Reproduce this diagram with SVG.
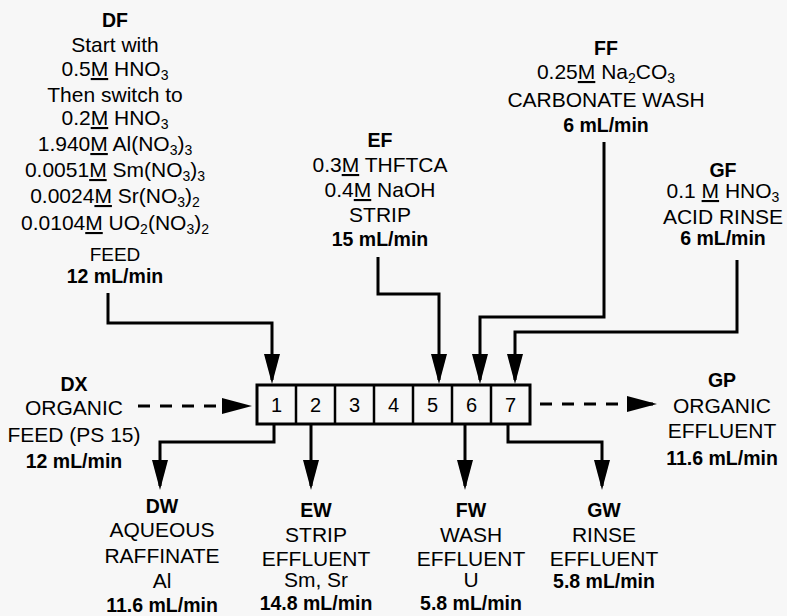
<svg xmlns="http://www.w3.org/2000/svg" width="787" height="616" viewBox="0 0 787 616">
<defs>
<style>
text{font-family:"Liberation Sans",Arial,sans-serif;font-size:21px;fill:#000;text-anchor:middle}
.b{font-weight:bold;font-size:19.5px}
.s{font-size:14px}
.u{text-decoration:underline}
.n{font-size:20px}
.ln{fill:none;stroke:#000;stroke-width:3}
.d{stroke-dasharray:12 10}
.dv{stroke:#000;stroke-width:2.5}
</style>
<marker id="ah" viewBox="0 0 30 16" refX="26" refY="8" markerWidth="30" markerHeight="16" markerUnits="userSpaceOnUse" orient="auto">
<path d="M0,0 L30,8 L0,16 Z" fill="#000"/>
</marker>
</defs>
<rect width="787" height="616" fill="#f7f7f7"/>

<g id="connectors">
<path class="ln" d="M108,293 V323 H272 V380" marker-end="url(#ah)"/>
<path class="ln" d="M378,257 V294 H439 V380" marker-end="url(#ah)"/>
<path class="ln" d="M604,142 V317 H480 V380" marker-end="url(#ah)"/>
<path class="ln" d="M737,260 V332 H515 V380" marker-end="url(#ah)"/>
<path class="ln" d="M274,425 V442 H160 V486" marker-end="url(#ah)"/>
<path class="ln" d="M311,425 V486" marker-end="url(#ah)"/>
<path class="ln" d="M465,425 V486" marker-end="url(#ah)"/>
<path class="ln" d="M508,425 V442 H602 V486" marker-end="url(#ah)"/>
<path class="ln d" d="M138,406 H248" marker-end="url(#ah)"/>
<path class="ln d" d="M540,404 H653" marker-end="url(#ah)"/>
</g>

<g id="contactor">
<rect x="257" y="385" width="273" height="39" fill="#f7f7f7" stroke="#000" stroke-width="3"/>
<line class="dv" x1="296" y1="385" x2="296" y2="424"/>
<line class="dv" x1="335" y1="385" x2="335" y2="424"/>
<line class="dv" x1="374" y1="385" x2="374" y2="424"/>
<line class="dv" x1="413" y1="385" x2="413" y2="424"/>
<line class="dv" x1="452" y1="385" x2="452" y2="424"/>
<line class="dv" x1="491" y1="385" x2="491" y2="424"/>
<text class="n" x="276.5" y="412">1</text>
<text class="n" x="315.5" y="412">2</text>
<text class="n" x="354.5" y="412">3</text>
<text class="n" x="393.5" y="412">4</text>
<text class="n" x="432.5" y="412">5</text>
<text class="n" x="471.5" y="412">6</text>
<text class="n" x="510.5" y="412">7</text>
</g>

<g id="DF">
<text class="b" x="115" y="27">DF</text>
<text x="115" y="52">Start with</text>
<text x="115" y="76">0.5<tspan class="u">M</tspan> HNO<tspan class="s" dy="4">3</tspan></text>
<text x="115" y="102">Then switch to</text>
<text x="115" y="125">0.2<tspan class="u">M</tspan> HNO<tspan class="s" dy="4">3</tspan></text>
<text x="115" y="151">1.940<tspan class="u">M</tspan> Al(NO<tspan class="s" dy="4">3</tspan><tspan dy="-4">)</tspan><tspan class="s" dy="4">3</tspan></text>
<text x="115" y="177">0.0051<tspan class="u">M</tspan> Sm(NO<tspan class="s" dy="4">3</tspan><tspan dy="-4">)</tspan><tspan class="s" dy="4">3</tspan></text>
<text x="115" y="203">0.0024<tspan class="u">M</tspan> Sr(NO<tspan class="s" dy="4">3</tspan><tspan dy="-4">)</tspan><tspan class="s" dy="4">2</tspan></text>
<text x="115" y="230">0.0104<tspan class="u">M</tspan> UO<tspan class="s" dy="4">2</tspan><tspan dy="-4">(NO</tspan><tspan class="s" dy="4">3</tspan><tspan dy="-4">)</tspan><tspan class="s" dy="4">2</tspan></text>
<text x="115" y="261" style="font-size:19px">FEED</text>
<text class="b" x="115" y="283">12 mL/min</text>
</g>

<g id="EF">
<text class="b" x="380" y="147">EF</text>
<text x="380" y="172">0.3<tspan class="u">M</tspan> THFTCA</text>
<text x="380" y="197">0.4<tspan class="u">M</tspan> NaOH</text>
<text x="380" y="222">STRIP</text>
<text class="b" x="380" y="246">15 mL/min</text>
</g>

<g id="FF">
<text class="b" x="606" y="55">FF</text>
<text x="606" y="79">0.25<tspan class="u">M</tspan> Na<tspan class="s" dy="4">2</tspan><tspan dy="-4">CO</tspan><tspan class="s" dy="4">3</tspan></text>
<text x="606" y="107">CARBONATE WASH</text>
<text class="b" x="606" y="132">6 mL/min</text>
</g>

<g id="GF">
<text class="b" x="723" y="177">GF</text>
<text x="723" y="198">0.1 <tspan class="u">M</tspan> HNO<tspan class="s" dy="4">3</tspan></text>
<text x="723" y="224">ACID RINSE</text>
<text class="b" x="723" y="245">6 mL/min</text>
</g>

<g id="DX">
<text class="b" x="74" y="391">DX</text>
<text x="74" y="415">ORGANIC</text>
<text x="74" y="442">FEED (PS 15)</text>
<text class="b" x="74" y="468">12 mL/min</text>
</g>

<g id="GP">
<text class="b" x="722" y="387">GP</text>
<text x="722" y="413">ORGANIC</text>
<text x="722" y="438">EFFLUENT</text>
<text class="b" x="722" y="465">11.6 mL/min</text>
</g>

<g id="DW">
<text class="b" x="162" y="513">DW</text>
<text x="162" y="537">AQUEOUS</text>
<text x="162" y="563">RAFFINATE</text>
<text x="162" y="588">Al</text>
<text class="b" x="162" y="612">11.6 mL/min</text>
</g>

<g id="EW">
<text class="b" x="316" y="517">EW</text>
<text x="316" y="542">STRIP</text>
<text x="316" y="566">EFFLUENT</text>
<text x="316" y="587">Sm, Sr</text>
<text class="b" x="316" y="610">14.8 mL/min</text>
</g>

<g id="FW">
<text class="b" x="471" y="517">FW</text>
<text x="471" y="542">WASH</text>
<text x="471" y="566">EFFLUENT</text>
<text x="471" y="587">U</text>
<text class="b" x="471" y="610">5.8 mL/min</text>
</g>

<g id="GW">
<text class="b" x="604" y="517">GW</text>
<text x="604" y="542">RINSE</text>
<text x="604" y="566">EFFLUENT</text>
<text class="b" x="604" y="588">5.8 mL/min</text>
</g>
</svg>
